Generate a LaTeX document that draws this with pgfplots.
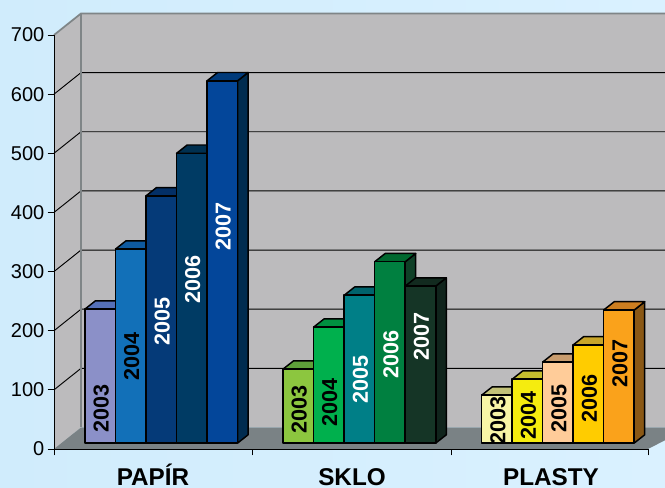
\documentclass[border=0pt]{standalone}
\usepackage{fontspec}
\setmainfont{Liberation Sans}
\usepackage{pgfplots}
\pgfplotsset{compat=1.18}
\definecolor{wall}{HTML}{BCBBBD}
\definecolor{floorc}{HTML}{7A8285}
\definecolor{edgec}{HTML}{7F8587}
\definecolor{grid}{HTML}{1E2426}
\definecolor{bgl}{HTML}{D0ECFC}
\definecolor{bgr}{HTML}{DAF1FF}
% front (f), top (t), side (s) of each bar
\definecolor{a1f}{HTML}{8B90C8}\definecolor{a1t}{HTML}{5570B8}\definecolor{a1s}{HTML}{4A5080}
\definecolor{a2f}{HTML}{1270B8}\definecolor{a2t}{HTML}{0E5AA0}\definecolor{a2s}{HTML}{0A4070}
\definecolor{a3f}{HTML}{053A78}\definecolor{a3t}{HTML}{032F66}\definecolor{a3s}{HTML}{022448}
\definecolor{a4f}{HTML}{003B64}\definecolor{a4t}{HTML}{003050}\definecolor{a4s}{HTML}{00253E}
\definecolor{a5f}{HTML}{03469A}\definecolor{a5t}{HTML}{003A7A}\definecolor{a5s}{HTML}{002C50}
\definecolor{b1f}{HTML}{8CC63F}\definecolor{b1t}{HTML}{5FA03A}\definecolor{b1s}{HTML}{4E7A28}
\definecolor{b2f}{HTML}{00B04D}\definecolor{b2t}{HTML}{009040}\definecolor{b2s}{HTML}{006A30}
\definecolor{b3f}{HTML}{007F87}\definecolor{b3t}{HTML}{00636C}\definecolor{b3s}{HTML}{004A50}
\definecolor{b4f}{HTML}{008040}\definecolor{b4t}{HTML}{00682F}\definecolor{b4s}{HTML}{0F4027}
\definecolor{b5f}{HTML}{153526}\definecolor{b5t}{HTML}{122A1F}\definecolor{b5s}{HTML}{10241C}
\definecolor{c1f}{HTML}{F8F5A6}\definecolor{c1t}{HTML}{C2C178}\definecolor{c1s}{HTML}{908E58}
\definecolor{c2f}{HTML}{F5EC0F}\definecolor{c2t}{HTML}{C5BE2E}\definecolor{c2s}{HTML}{908A10}
\definecolor{c3f}{HTML}{FFCC99}\definecolor{c3t}{HTML}{C89C6E}\definecolor{c3s}{HTML}{96744F}
\definecolor{c4f}{HTML}{FFCC00}\definecolor{c4t}{HTML}{C8A52A}\definecolor{c4s}{HTML}{967A10}
\definecolor{c5f}{HTML}{FAA21B}\definecolor{c5t}{HTML}{CC7E20}\definecolor{c5s}{HTML}{8A5815}
\tikzset{barlabel/.style={rotate=90,font=\fontsize{16.2pt}{17pt}\selectfont\bfseries,inner sep=0pt}}
% #1 year, #2 value, #3 left x, #4 label height, #5 colour stem, #6 label colour
\newcommand{\threedbar}[6]{%
  \pgfmathsetmacro\xa{#3}%
  \pgfmathsetmacro\xb{#3+30.5}%
  \pgfmathsetmacro\xc{#3+41}%
  \pgfmathsetmacro\xd{#3+10.5}%
  \pgfmathsetmacro\xm{#3+16.2}%
  \pgfmathsetmacro\ya{10}%
  \pgfmathsetmacro\yb{10+#2}%
  \pgfmathsetmacro\yc{24+#2}%
  \edef\tmp{%
    \noexpand\addplot[fill=#5s,draw=black,line width=1.1pt,line join=round] coordinates {(\xb,\ya)(\xc,24)(\xc,\yc)(\xb,\yb)} -- cycle;
    \noexpand\addplot[fill=#5t,draw=black,line width=1.1pt,line join=round] coordinates {(\xa,\yb)(\xd,\yc)(\xc,\yc)(\xb,\yb)} -- cycle;
    \noexpand\addplot[fill=#5f,draw=black,line width=1.1pt,line join=round] coordinates {(\xa,\ya)(\xa,\yb)(\xb,\yb)(\xb,\ya)} -- cycle;
    \noexpand\node[barlabel,text=#6] at (axis cs:\xm,#4) {#1};
  }\tmp
}
\begin{document}
\begin{tikzpicture}[x=0.75pt,y=0.75pt]
\useasboundingbox (-54,-39) rectangle (611,449);
\clip (-54,-39) rectangle (611,449);
\shade[left color=bgl,right color=bgr] (-54,-39) rectangle (611,449);
\begin{axis}[
  scale only axis,
  width=445.5pt, height=310.5pt,
  xmin=54, xmax=648, ymin=0, ymax=700,
  clip=false,
  axis lines=left,
  axis line style={-,black,line width=0.7pt},
  axis on top,
  ytick={0,100,...,700},
  xtick={153,352,551},
  xticklabels={PAPÍR,SKLO,PLASTY},
  minor xtick={54,252,451,648},
  major x tick style={draw=none},
  tick style={black,line width=0.7pt},
  tick align=outside,
  major tick length=4.7pt,
  minor tick length=4.7pt,
  /pgf/number format/assume math mode=true,
  yticklabel style={font=\fontsize{15pt}{16pt}\selectfont,text=black,xshift=1pt},
  xticklabel style={font=\fontsize{18.2pt}{19pt}\selectfont\bfseries,text=black,
    inner sep=0pt,text height=16pt,text depth=0pt,yshift=-6.6pt},
]
% walls and floor
\addplot[fill=wall,draw=none] coordinates {(81,36.4)(81,736.4)(690,736.4)(690,36.4)} -- cycle;
\addplot[fill=wall,draw=none] coordinates {(54,0)(54,700)(81,736.4)(81,36.4)} -- cycle;
\addplot[fill=floorc,draw=none] coordinates {(54,0)(81,36.4)(690,36.4)(648,0)} -- cycle;
% gridlines
\addplot[grid,line width=0.7pt] coordinates {(54,100)(81,136.4)(690,136.4)};
\addplot[grid,line width=0.7pt] coordinates {(54,200)(81,236.4)(690,236.4)};
\addplot[grid,line width=0.7pt] coordinates {(54,300)(81,336.4)(690,336.4)};
\addplot[grid,line width=0.7pt] coordinates {(54,400)(81,436.4)(690,436.4)};
\addplot[grid,line width=0.7pt] coordinates {(54,500)(81,536.4)(690,536.4)};
\addplot[grid,line width=0.7pt] coordinates {(54,600)(81,636.4)(690,636.4)};
\addplot[edgec,line width=1.3pt] coordinates {(54,700)(81,736.4)(690,736.4)};
\addplot[edgec,line width=1.3pt] coordinates {(81,36.4)(81,736.4)};
% PAPIR
\threedbar{2003}{226.6}{85}{69}{a1}{black}
\threedbar{2004}{328}{115.5}{156}{a2}{black}
\threedbar{2005}{418}{146}{216}{a3}{white}
\threedbar{2006}{490}{176.6}{287}{a4}{white}
\threedbar{2007}{612.6}{207.1}{377}{a5}{white}
% SKLO
\threedbar{2003}{125}{283}{66}{b1}{black}
\threedbar{2004}{196}{313.6}{79}{b2}{black}
\threedbar{2005}{250}{344.2}{117}{b3}{white}
\threedbar{2006}{306.6}{374.7}{159}{b4}{white}
\threedbar{2007}{265.5}{405.3}{191}{b5}{white}
% PLASTY
\threedbar{2003}{81}{481.7}{49}{c1}{black}
\threedbar{2004}{108}{512.2}{57}{c2}{black}
\threedbar{2005}{137}{542.7}{69}{c3}{black}
\threedbar{2006}{166}{573.2}{86}{c4}{black}
\threedbar{2007}{225}{603.7}{145}{c5}{black}
\end{axis}
\end{tikzpicture}
\end{document}
